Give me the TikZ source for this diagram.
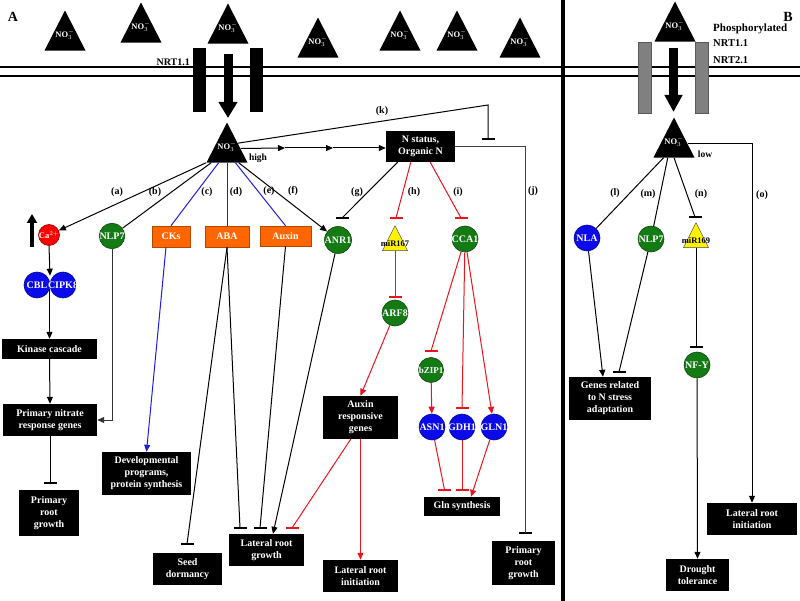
\documentclass[tikz,border=0pt]{standalone}
\usepackage{fontspec}
\setmainfont{Liberation Serif}
\usetikzlibrary{arrows.meta,calc,shapes.geometric}
\definecolor{gfill}{RGB}{20,122,20}
\definecolor{bfill}{RGB}{10,10,235}
\definecolor{ofill}{RGB}{255,102,0}
\definecolor{rline}{RGB}{235,20,30}
\definecolor{bline}{RGB}{30,30,220}
\newcommand{\ctrtxt}[1]{\hbox to 0pt{\hss#1\hss}}
\tikzset{
  every node/.style={font=\bfseries},
  blk/.style={fill=black, text=white, align=center, inner sep=0pt, font=\bfseries\fontsize{10}{12}\selectfont},
  obox/.style={fill=ofill, draw=ofill!70!black, line width=0.6pt, text=white, inner sep=0pt, font=\bfseries\fontsize{10}{12}\selectfont},
  circ/.style={circle, minimum size=26pt, inner sep=0pt, text=white, font=\bfseries\fontsize{10}{12}\selectfont, line width=0.6pt},
  gc/.style={circ, fill=gfill, draw=gfill!60!black},
  bc/.style={circ, fill=bfill, draw=bfill!60!black},
  tri/.style={isosceles triangle, isosceles triangle stretches, shape border rotate=90, inner sep=0pt, minimum width=41pt, minimum height=40pt, fill=black},
  ytri/.style={isosceles triangle, isosceles triangle stretches, shape border rotate=90, inner sep=0pt, minimum width=25pt, minimum height=25pt, fill=yellow, draw=black!70, line width=0.5pt},
  notxt/.style={text=white, font=\bfseries\fontsize{8.5}{10}\selectfont, inner sep=0pt},
  mirtxt/.style={text=black, font=\bfseries\fontsize{8.5}{10}\selectfont, inner sep=0pt},
  tbar/.style={rectangle, fill=black, minimum width=13pt, minimum height=1.5pt, inner sep=0pt},
  rbar/.style={tbar, fill=rline},
  conn/.style={line width=1pt},
  arr/.style={conn, -{Triangle[length=7pt,width=6pt]}},
  lab/.style={font=\bfseries\fontsize{10}{12}\selectfont, inner sep=0pt},
}
\begin{document}
\begin{tikzpicture}[x=1pt,y=-1pt]
\useasboundingbox (0,0) rectangle (800,601);
\fill[white] (0,0) rectangle (800,601);
% membrane and divider
\draw[line width=1.8pt] (0,67) -- (800,67);
\draw[line width=1.8pt] (0,76) -- (800,76);
\draw[line width=3.5pt] (563,0) -- (563,601);
% channels
\fill (193,48) rectangle (206,112);
\fill (250,48) rectangle (263,112);
\draw[line width=9pt, -{Triangle[length=16pt,width=18pt]}] (228,54) -- (228,118);
\filldraw[fill=black!50, draw=black!65, line width=0.6pt] (638,42) rectangle (651,113);
\filldraw[fill=black!50, draw=black!65, line width=0.6pt] (695,42) rectangle (708,113);
\draw[line width=9pt, -{Triangle[length=17pt,width=17pt]}] (673.5,48) -- (673.5,112);
% panel letters and labels
\node[font=\bfseries\fontsize{14}{16}\selectfont, inner sep=0pt] (pA) at (13,17) {A};
\node[font=\bfseries\fontsize{14}{16}\selectfont, inner sep=0pt] (pB) at (788,17) {B};
\node[lab, anchor=east] (nrtA) at (190,62) {NRT1.1};
\node[lab, anchor=west, font=\bfseries\fontsize{11}{13}\selectfont] (phos) at (713,29) {Phosphorylated};
\node[lab, anchor=west, font=\bfseries\fontsize{10.5}{12}\selectfont] (nrtB1) at (713,43) {NRT1.1};
\node[lab, anchor=west, font=\bfseries\fontsize{10.5}{12}\selectfont] (nrtB2) at (713,60) {NRT2.1};
% nitrate triangles
\foreach \n/\x/\y in {t1/65/10, t2/141/2, t3/228/3, t4/318/17, t5/400/10, t6/457/10, t7/520/17, tb/675/1, hi/227/122, lo/674/117} {
  \node[tri, anchor=apex] (\n) at (\x,\y) {};
  \node[notxt] (\n-txt) at ($(\n.lower side)+(0,-16)$) {NO$_3^-$};
}
\node[lab, font=\bfseries\fontsize{9.5}{11}\selectfont] (hightxt) at (258,158) {high};
\node[lab, font=\bfseries\fontsize{9.5}{11}\selectfont] (lowtxt) at (705,154) {low};
% boxes
\node[blk, minimum width=69pt, minimum height=31pt] (ns) at (420.5,146.5) {N status,\\Organic N};
\node[blk, minimum width=95pt, minimum height=20pt] (kin) at (49.5,349) {Kinase cascade};
\node[blk, minimum width=94pt, minimum height=32pt] (pnr) at (50,420) {Primary nitrate\\response genes};
\node[blk, minimum width=60pt, minimum height=46pt] (prg) at (49,513) {Primary\\root\\growth};
\node[blk, minimum width=89pt, minimum height=43pt] (dev) at (146.5,473.5) {Developmental\\programs,\\protein synthesis};
\node[blk, minimum width=69pt, minimum height=32pt] (seed) at (187.5,569) {Seed\\dormancy};
\node[blk, minimum width=75pt, minimum height=32pt] (lrg) at (266.5,550) {Lateral root\\growth};
\node[blk, minimum width=75pt, minimum height=32pt] (lria) at (360.5,576) {Lateral root\\initiation};
\node[blk, minimum width=75pt, minimum height=43pt] (arg) at (360.5,417.5) {Auxin\\responsive\\genes};
\node[blk, minimum width=76pt, minimum height=19pt] (glns) at (462,506.5) {Gln synthesis};
\node[blk, minimum width=63pt, minimum height=44pt] (prgr) at (523.5,563) {Primary\\root\\growth};
\node[blk, minimum width=82pt, minimum height=43pt] (genes) at (610,398.5) {Genes related\\to N stress\\adaptation};
\node[blk, minimum width=63pt, minimum height=32pt] (drought) at (697.5,575) {Drought\\tolerance};
\node[blk, minimum width=90pt, minimum height=32pt] (lrib) at (752,519) {Lateral root\\initiation};
\node[obox, minimum width=38pt, minimum height=21pt] (cks) at (171,236.5) {CKs};
\node[obox, minimum width=44pt, minimum height=21pt] (aba) at (227,236.5) {ABA};
\node[obox, minimum width=51pt, minimum height=20pt] (aux) at (285.5,236) {Auxin};
% circles
\node[circ, fill=red, draw=red!60!black, minimum size=21pt, font=\bfseries\fontsize{8.5}{10}\selectfont] (ca) at (49,235) {\ctrtxt{Ca$^{2+}$}};
\node[gc, minimum size=25.5pt] (nlp7) at (112,236) {\ctrtxt{NLP7}};
\node[bc] (cbl) at (37,285) {\ctrtxt{CBL}};
\node[bc] (cipk) at (63,285) {\ctrtxt{CIPK8}};
\node[gc, minimum size=27pt] (anr1) at (338,240) {\ctrtxt{ANR1}};
\node[gc] (cca1) at (465,239) {\ctrtxt{CCA1}};
\node[gc] (arf8) at (395,313) {\ctrtxt{ARF8}};
\node[gc, minimum size=25pt, font=\bfseries\fontsize{9}{10}\selectfont] (bzip1) at (431,370) {\ctrtxt{bZIP1}};
\node[bc] (asn1) at (432,427) {\ctrtxt{ASN1}};
\node[bc] (gdh1) at (462,427) {\ctrtxt{GDH1}};
\node[bc] (gln1) at (494,427) {\ctrtxt{GLN1}};
\node[bc] (nla) at (587,238) {\ctrtxt{NLA}};
\node[gc] (nlp7b) at (651,239) {\ctrtxt{NLP7}};
\node[gc] (nfy) at (697,365) {\ctrtxt{NF-Y}};
% microRNA triangles
\node[ytri, anchor=apex] (mir167) at (395,225) {};
\node[mirtxt] (mir167-txt) at ($(mir167.lower side)+(0,-7)$) {miR167};
\node[ytri, anchor=apex] (mir169) at (696,222) {};
\node[mirtxt] (mir169-txt) at ($(mir169.lower side)+(0,-7)$) {miR169};
% up arrow for Ca
\draw[line width=3.5pt, -{Triangle[length=9pt,width=10pt]}] (32,247) -- (32,214);
% inhibition bars
\node[tbar] (kbar) at (488,139) {};
\node[tbar] (jbar) at (525,533) {};
\node[tbar] (gbar) at (342,218) {};
\node[rbar] (hbar) at (396,218) {};
\node[rbar] (ibar) at (461,218) {};
\node[rbar] (arfbar) at (395,297) {};
\node[rbar] (lrgbar4) at (292,528) {};
\node[rbar] (bzbar) at (431,351) {};
\node[rbar] (gdhbar) at (462,408) {};
\node[rbar] (glnbar1) at (444.5,490) {};
\node[rbar] (glnbar2) at (462,490) {};
\node[tbar] (prgbar) at (50,483) {};
\node[tbar] (sdbar) at (187,544) {};
\node[tbar] (lrgbar1) at (240,528) {};
\node[tbar] (lrgbar2) at (260,528) {};
\node[tbar] (nbar) at (695,217) {};
\node[tbar] (genbar) at (619,372) {};
\node[tbar] (nfbar) at (696,347) {};
\coordinate (kc) at (488,105);
\coordinate (m1) at (285,148);
\coordinate (m2) at (333,148);
% connectors panel A
\draw[arr] (hi.left corner) -- (ca);
\draw[conn] ($(hi.left corner)!0.12!(hi.right corner)$) -- (nlp7);
\draw[conn, bline] ($(hi.left corner)!0.3!(hi.right corner)$) -- (cks.north);
\draw[conn, bline] (hi.lower side) -- (aba.north);
\draw[conn, bline] ($(hi.left corner)!0.7!(hi.right corner)$) -- (aux.north);
\draw[arr] ($(hi.left corner)!0.78!(hi.right corner)$) -- (anr1);
\draw[conn] ($(hi.apex)!0.52!(hi.right corner)$) -- (kc) -- (kbar.center);
\draw[arr] ($(hi.apex)!0.65!(hi.right corner)$) -- (m1);
\draw[arr] (m1) -- (m2);
\draw[arr] (m2) -- (m2 -| ns.west);
\draw[conn, black!75] (ns.east) -| (jbar.center);
\draw[conn] ($(ns.south west)!0.17!(ns.south east)$) -- (gbar.center);
\draw[conn, rline] ($(ns.south west)!0.36!(ns.south east)$) -- (hbar.center);
\draw[conn, rline] ($(ns.south west)!0.64!(ns.south east)$) -- (ibar.center);
\draw[conn, rline] (mir167.lower side) -- (arfbar.center);
\draw[arr, rline] (arf8) -- (arg.north);
\draw[conn, rline] ($(arg.south west)!0.37!(arg.south east)$) -- (lrgbar4.center);
\draw[arr, rline] (arg.south) -- (lria.north);
\draw[conn, rline] (cca1) -- (bzbar.center);
\draw[conn, rline] (cca1) -- (gdhbar.center);
\draw[arr, rline] (cca1) -- (gln1);
\draw[arr, rline] (bzip1) -- (asn1);
\draw[conn, rline] (asn1) -- (glnbar1.center);
\draw[conn, rline] (gdh1) -- (glnbar2.center);
\draw[arr, rline] (gln1) -- ($(glns.north)+(9,0)$);
\draw[arr] (ca.south) -- ($(cbl.north)!0.5!(cipk.north)+(0,4)$);
\draw[arr] ($(kin.north |- cbl.center)+(0,4)$) -- (kin.north);
\draw[arr] (kin.south) -- (pnr.north);
\draw[arr, black!80] (nlp7.south) |- (pnr.east);
\draw[conn] (pnr.south) -- (prgbar.center);
\draw[arr, bline] ($(cks.south west)!0.37!(cks.south east)$) -- (dev.north);
\draw[conn] (aba.south) -- (sdbar.center);
\draw[conn] (aba.south) -- (lrgbar1.center);
\draw[conn] (aux.south) -- (lrgbar2.center);
\draw[arr] (anr1) -- ($(lrg.north)+(6.5,0)$);
% connectors panel B
\draw[conn] ($(lo.left corner)!0.25!(lo.right corner)$) -- (nla);
\draw[conn] ($(lo.left corner)!0.35!(lo.right corner)$) -- (nlp7b);
\draw[conn] (lo.lower side) -- (nbar.center);
\draw[arr] ($(lo.apex)!0.65!(lo.right corner)$) -| (lrib.north);
\draw[arr] (nla) -- ($(genes.north)+(-7,0)$);
\draw[conn] (nlp7b) -- (genbar.center);
\draw[conn] (mir169.lower side) -- (nfbar.center);
\draw[arr] (nfy) -- (drought.north);
% branch labels
\node[lab] (la) at (117,192) {(a)};
\node[lab] (lb) at (155,192) {(b)};
\node[lab] (lc) at (207,192) {(c)};
\node[lab] (ld) at (236,192) {(d)};
\node[lab] (le) at (269,191) {(e)};
\node[lab] (lf) at (293,191) {(f)};
\node[lab] (lg) at (357,192) {(g)};
\node[lab] (lh) at (414,192) {(h)};
\node[lab] (li) at (458,192) {(i)};
\node[lab] (lj) at (533,191) {(j)};
\node[lab] (lk) at (382,111) {(k)};
\node[lab] (ll) at (615,193) {(l)};
\node[lab] (lm) at (648,194) {(m)};
\node[lab] (ln) at (701,194) {(n)};
\node[lab] (lo-lab) at (762,195) {(o)};
\end{tikzpicture}
\end{document}
